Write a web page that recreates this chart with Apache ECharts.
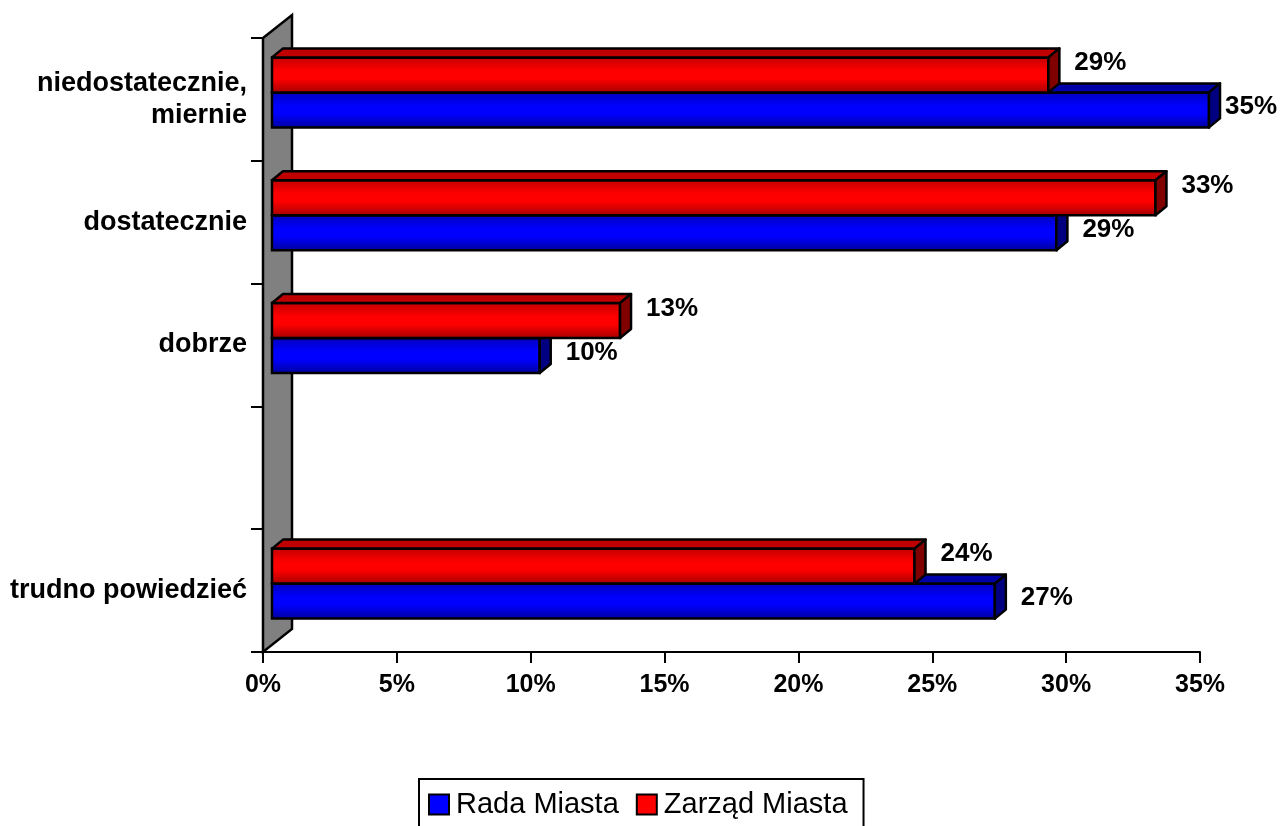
<!DOCTYPE html>
<html><head><meta charset="utf-8">
<script src="https://cdn.jsdelivr.net/npm/echarts@6/dist/echarts.min.js"></script>
<style>html,body{margin:0;padding:0;background:#fff}#c{width:1280px;height:826px}</style>
</head><body><div id="c"></div>
<script>
// ---- data ----
const categories = ['niedostatecznie,\nmiernie', 'dostatecznie', 'dobrze', '', 'trudno powiedzieć'];
const seriesNames = ['Rada Miasta', 'Zarząd Miasta'];
const radaMiasta = [35, 29.3, 10, null, 27];
const zarzadMiasta = [29, 33, 13, null, 24];
const xTickMin = 0, xTickMax = 35, xTickStep = 5; // tick labels: 0% ... 35%

// ---- style ----
const FONT = '"Liberation Sans", Arial, sans-serif';
const palettes = [
  { front: ['#0000b8', '#0000ff', '#0000ff', '#00009a'], top: '#0000a8', side: '#000080', legend: '#0000ff', labelDy: -3 },
  { front: ['#c00000', '#ff0000', '#ff0000', '#a00000'], top: '#c00000', side: '#800000', legend: '#ff0000', labelDy: -12 }
];
const SHIFT_X = 9, SHIFT_Y = -7;     // bars sit a little behind the front plane
const DEPTH_X = 11, DEPTH_Y = -9;    // bar depth
const WALL_X = 29, WALL_Y = -23;     // wall depth
const BAR_FRAC = 0.285;

function toData(arr) {
  const out = [];
  arr.forEach((v, i) => { if (v != null) out.push([v, i]); });
  return out;
}

function barGeom(sIdx, api) {
  const v = api.value(0), c = api.value(1);
  const p0 = api.coord([0, c]);
  const p1 = api.coord([v, c]);
  const band = api.size([0, 1])[1];
  const bh = band * BAR_FRAC;
  const x0 = p0[0] + SHIFT_X, x1 = p1[0] + SHIFT_X;
  const cy = p0[1] + SHIFT_Y;
  const yTop = sIdx === 1 ? cy - bh : cy;
  return { v, x0, x1, yTop, bh };
}

function makeBarRender(sIdx) {
  const pal = palettes[sIdx];
  return function (params, api) {
    const g = barGeom(sIdx, api);
    const { x0, x1, yTop, bh } = g;
    const lw = 2.5, stroke = '#000';
    return {
      type: 'group',
      children: [
        {
          type: 'rect',
          shape: { x: x0, y: yTop, width: x1 - x0, height: bh },
          style: {
            fill: {
              type: 'linear', x: 0, y: 0, x2: 0, y2: 1,
              colorStops: [
                { offset: 0, color: pal.front[0] },
                { offset: 0.4, color: pal.front[1] },
                { offset: 0.6, color: pal.front[2] },
                { offset: 1, color: pal.front[3] }
              ]
            },
            stroke: stroke, lineWidth: lw
          }
        },
        {
          type: 'polygon',
          shape: { points: [[x0, yTop], [x0 + DEPTH_X, yTop + DEPTH_Y], [x1 + DEPTH_X, yTop + DEPTH_Y], [x1, yTop]] },
          style: { fill: pal.top, stroke: stroke, lineWidth: lw, lineJoin: 'round' }
        },
        {
          type: 'polygon',
          shape: { points: [[x1, yTop], [x1 + DEPTH_X, yTop + DEPTH_Y], [x1 + DEPTH_X, yTop + DEPTH_Y + bh], [x1, yTop + bh]] },
          style: { fill: pal.side, stroke: stroke, lineWidth: lw, lineJoin: 'round' }
        }
      ]
    };
  };
}

function makeLabelRender(sIdx) {
  const pal = palettes[sIdx];
  return function (params, api) {
    const g = barGeom(sIdx, api);
    return {
      type: 'text',
      style: {
        text: Math.round(g.v) + '%',
        x: Math.min(g.x1 + 52, 1251),
        y: g.yTop + g.bh / 2 + pal.labelDy,
        align: 'center', verticalAlign: 'middle',
        font: 'bold 26px ' + FONT, fill: '#000'
      }
    };
  };
}

function renderWall(params, api) {
  const p = api.coord([0, 0]);
  const band = api.size([0, 1])[1];
  const top = p[1] - band / 2;
  const bottom = top + band * categories.length;
  const x = p[0];
  return {
    type: 'polygon',
    shape: { points: [[x, top], [x + WALL_X, top + WALL_Y], [x + WALL_X, bottom + WALL_Y], [x, bottom]] },
    style: { fill: '#808080', stroke: '#000', lineWidth: 2.5, lineJoin: 'miter' }
  };
}

const chart = echarts.init(document.getElementById('c'), null, { renderer: 'canvas' });
chart.setOption({
  animation: false,
  backgroundColor: '#fff',
  grid: { left: 263, right: 80, top: 38, bottom: 174, containLabel: false },
  xAxis: {
    type: 'value', min: xTickMin, max: xTickMax, interval: xTickStep,
    axisLine: { show: true, lineStyle: { color: '#000', width: 2 } },
    axisTick: { show: true, length: 11, lineStyle: { color: '#000', width: 2 } },
    axisLabel: { formatter: '{value}%', color: '#000', fontFamily: FONT, fontWeight: 'bold', fontSize: 25, margin: 21 },
    splitLine: { show: false }
  },
  yAxis: {
    type: 'category', data: categories, inverse: true,
    axisLine: { show: true, lineStyle: { color: '#000', width: 2 } },
    axisTick: { show: true, length: 12, lineStyle: { color: '#000', width: 2 } },
    axisLabel: { color: '#000', fontFamily: FONT, fontWeight: 'bold', fontSize: 27, margin: 16, lineHeight: 32, align: 'right' },
    splitLine: { show: false }
  },
  legend: {
    data: [
      { name: seriesNames[0], itemStyle: { color: palettes[0].legend, borderColor: '#000', borderWidth: 2 } },
      { name: seriesNames[1], itemStyle: { color: palettes[1].legend, borderColor: '#000', borderWidth: 2 } }
    ],
    left: 419, top: 779, orient: 'horizontal',
    icon: 'rect', itemWidth: 20, itemHeight: 20, itemGap: 17,
    borderColor: '#000', borderWidth: 2, borderRadius: 0,
    padding: [11, 16, 30, 9],
    textStyle: { color: '#000', fontFamily: FONT, fontSize: 29, padding: [0, 0, 0, 2] },
    selectedMode: false
  },
  series: [
    { type: 'custom', name: '_wall', renderItem: renderWall, data: [[0, 0]], encode: { x: 0, y: 1 }, silent: true, z: 1 },
    { type: 'custom', name: seriesNames[0], renderItem: makeBarRender(0), data: toData(radaMiasta), encode: { x: 0, y: 1 }, itemStyle: { color: palettes[0].legend }, z: 2 },
    { type: 'custom', name: seriesNames[1], renderItem: makeBarRender(1), data: toData(zarzadMiasta), encode: { x: 0, y: 1 }, itemStyle: { color: palettes[1].legend }, z: 3 },
    { type: 'custom', name: '_lbl0', renderItem: makeLabelRender(0), data: toData(radaMiasta), encode: { x: 0, y: 1 }, silent: true, z: 10 },
    { type: 'custom', name: '_lbl1', renderItem: makeLabelRender(1), data: toData(zarzadMiasta), encode: { x: 0, y: 1 }, silent: true, z: 10 }
  ]
});
</script>
</body></html>
